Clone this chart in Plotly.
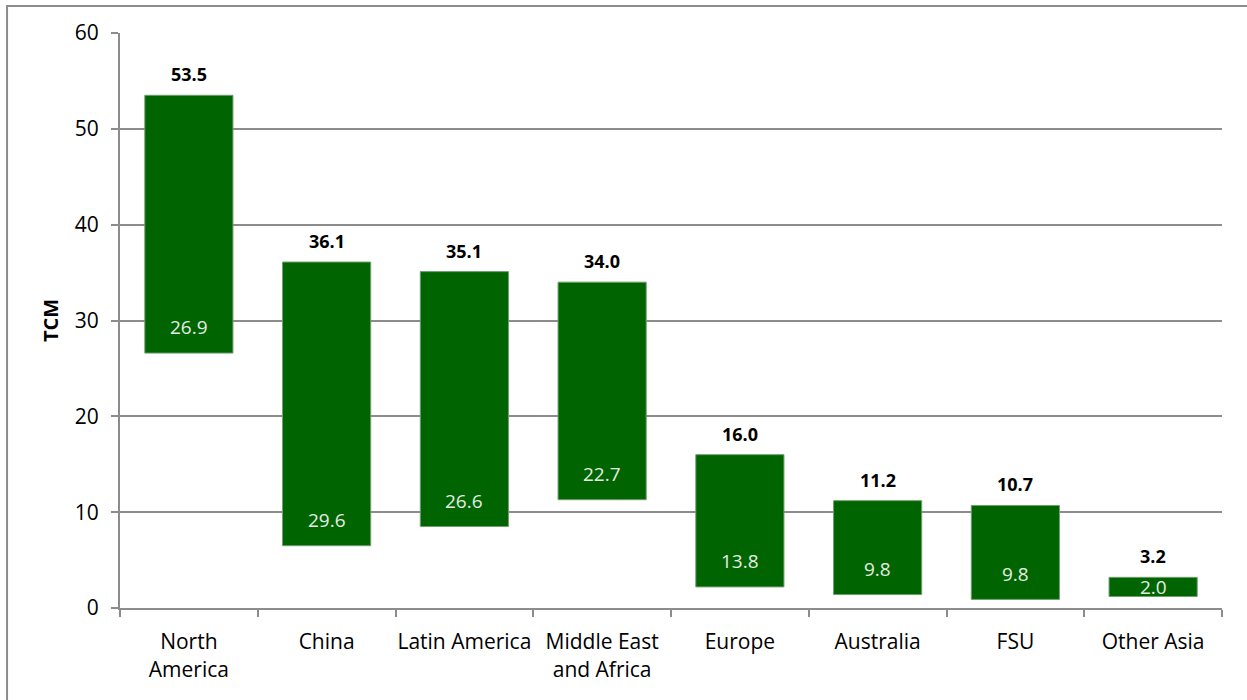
import plotly.graph_objects as go

# Regional totals (TCM): top of each floating bar and the length of the bar
regions = ["North<br>America", "China", "Latin America", "Middle East<br>and Africa",
           "Europe", "Australia", "FSU", "Other Asia"]
top_values = [53.5, 36.1, 35.1, 34.0, 16.0, 11.2, 10.7, 3.2]
span_values = [26.9, 29.6, 26.6, 22.7, 13.8, 9.8, 9.8, 2.0]
y_ticks = [0, 10, 20, 30, 40, 50, 60]

bases = [t - s for t, s in zip(top_values, span_values)]

FONT = "Open Sans"
GREEN = "#006400"
GRID = "#8c8c8c"

fig = go.Figure()
fig.add_trace(go.Bar(
    x=regions,
    y=span_values,
    base=bases,
    marker=dict(color=GREEN, line=dict(color="#6f9f6f", width=1)),
    width=0.64,
    hoverinfo="skip",
))

annotations = []
for r, t, b, s in zip(regions, top_values, bases, span_values):
    # bold total above the bar
    annotations.append(dict(
        x=r, y=t, xref="x", yref="y", text=f"<b>{t:.1f}</b>", showarrow=False,
        yanchor="bottom", yshift=7,
        font=dict(family=FONT, size=18, color="#000000"),
    ))
    # bar length near the base, inside the bar
    annotations.append(dict(
        x=r, y=b + min(2.7, s / 2), xref="x", yref="y", text=f"{s:.1f}", showarrow=False,
        yanchor="middle",
        font=dict(family=FONT, size=19, color="#e4ece4"),
    ))

fig.update_layout(
    width=1247, height=700,
    margin=dict(l=120, r=25, t=33, b=92),
    paper_bgcolor="white", plot_bgcolor="white",
    showlegend=False,
    font=dict(family=FONT, size=21, color="#000000"),
    annotations=annotations,
    shapes=[dict(
        type="rect", xref="paper", yref="paper",
        x0=-0.1025, x1=1.03, y0=-0.18, y1=1.047,
        line=dict(color=GRID, width=2), fillcolor="rgba(0,0,0,0)", layer="below",
    )],
)

fig.update_xaxes(
    showline=True, linecolor=GRID, linewidth=2,
    ticks="outside", ticklen=7, tickcolor=GRID, tickwidth=2,
    tickson="boundaries", ticklabelstandoff=14, tickangle=0, automargin=False,
    showgrid=False, tickfont=dict(family=FONT, size=21, color="#000000"),
)
fig.update_yaxes(
    range=[0, 60], tickvals=y_ticks, automargin=False,
    showline=True, linecolor=GRID, linewidth=2,
    ticks="outside", ticklen=7, tickcolor=GRID, tickwidth=2,
    showgrid=True, gridcolor=GRID, gridwidth=2, zeroline=False,
    ticklabelstandoff=8,
    tickfont=dict(family=FONT, size=21, color="#000000"),
    title=dict(text="<b>TCM</b>", font=dict(family=FONT, size=20, color="#000000"), standoff=11),
)

fig.write_html("out.html")
